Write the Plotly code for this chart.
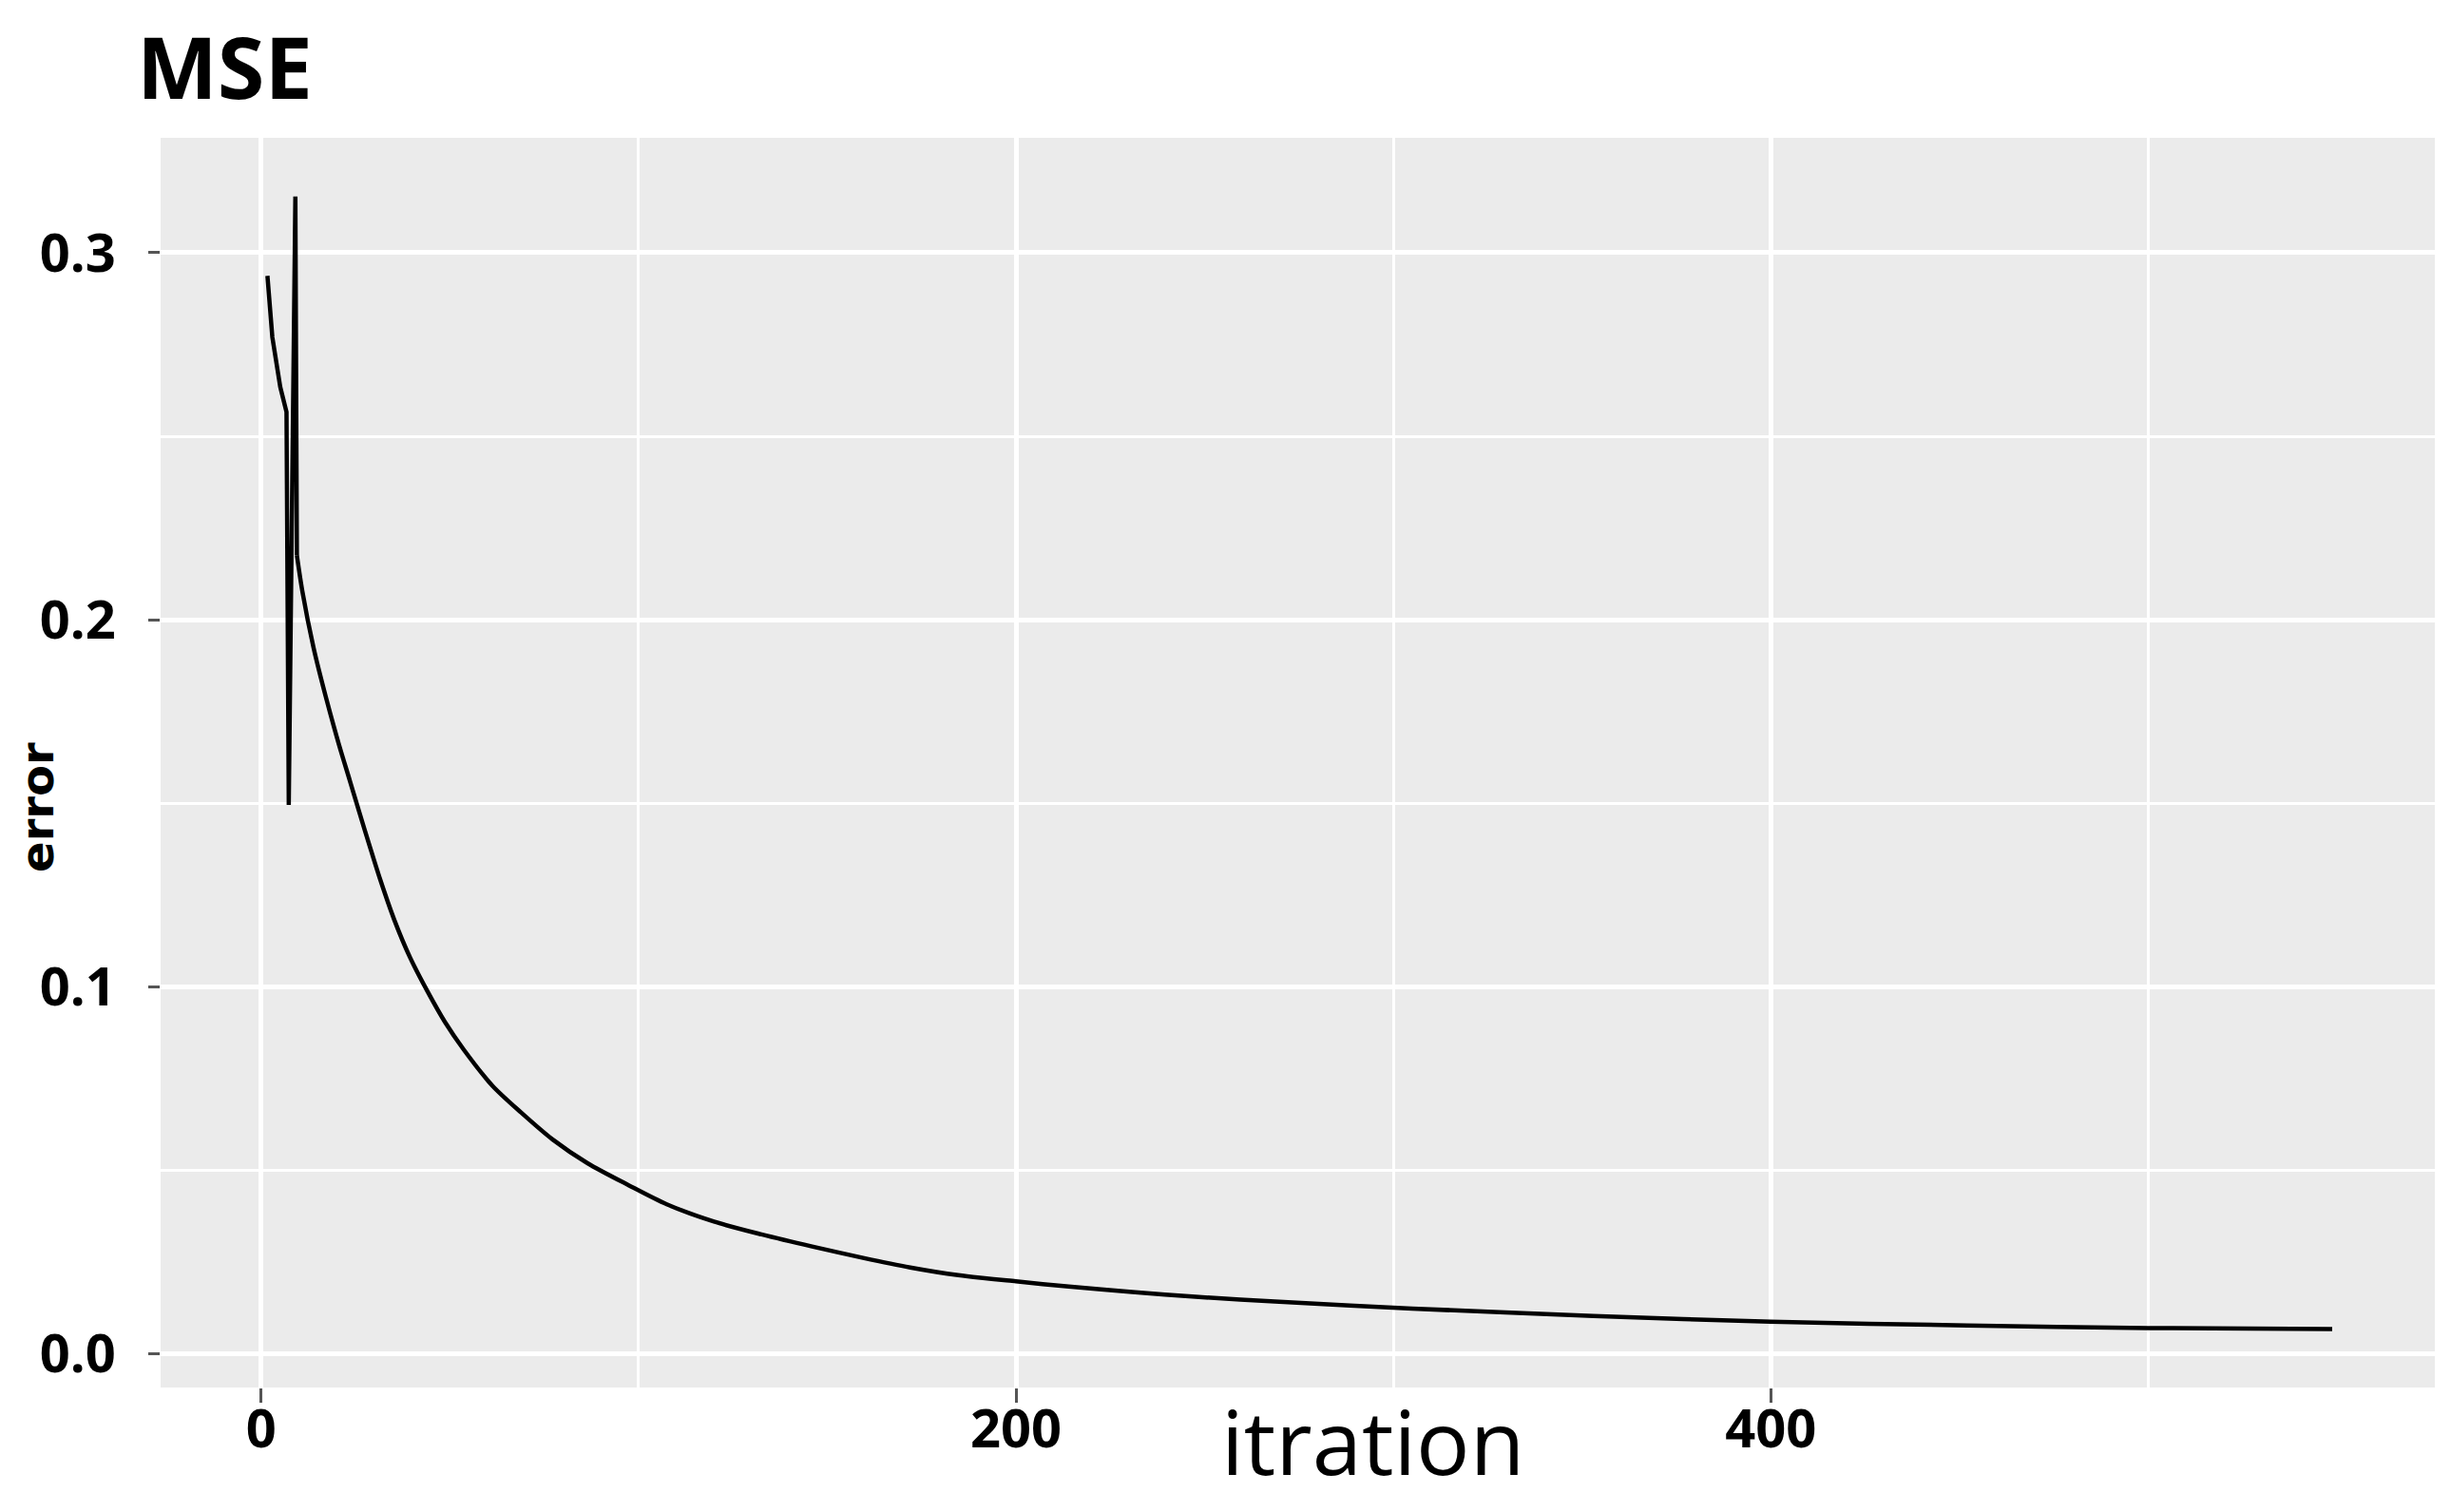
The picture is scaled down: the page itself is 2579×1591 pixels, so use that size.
import plotly.graph_objects as go

# values
iteration = [1.7, 3.0, 5.1, 6.75, 7.35, 9.1, 9.5, 10.95, 13.9, 17.2, 20.6,
             23.5, 26.1, 28.6, 31.5, 35.3, 39.5, 44.1, 48.7, 53.8, 61.3,
             68.9, 77.2, 86.5, 97.4, 107.5, 120, 132.6, 146, 159.5, 172,
             184.7, 200, 214, 230.8, 247.6, 268.6, 305, 353, 400, 452, 500,
             548.7]
error = [0.2937, 0.277, 0.2634, 0.2566, 0.1496, 0.3153, 0.2176, 0.2078,
         0.1925, 0.1789, 0.1662, 0.1563, 0.1474, 0.139, 0.1295, 0.1183,
         0.1080, 0.0988, 0.0905, 0.0828, 0.0731, 0.0658, 0.0585, 0.052,
         0.046, 0.0408, 0.0361, 0.0326, 0.0293, 0.0262, 0.0236, 0.0215,
         0.0198, 0.0184, 0.0169, 0.0156, 0.0143, 0.0124, 0.0104, 0.0088,
         0.0078, 0.0071, 0.0068]

x_ticks = [0, 200, 400]
y_ticks = [0.0, 0.1, 0.2, 0.3]
y_tick_text = ["0.0", "0.1", "0.2", "0.3"]

# the jagged start is drawn straight, the smooth decay as a spline
split = 6

fig = go.Figure()
fig.add_trace(go.Scatter(
    x=iteration[:split + 1],
    y=error[:split + 1],
    mode="lines",
    line=dict(color="black", width=4.5),
    showlegend=False,
))
fig.add_trace(go.Scatter(
    x=iteration[split:],
    y=error[split:],
    mode="lines",
    line=dict(color="black", width=4.5, shape="spline", smoothing=0.8),
    showlegend=False,
))

tick_font = dict(family="Open Sans", size=56, color="black", weight="bold")

fig.update_layout(
    width=2579,
    height=1591,
    margin=dict(l=161, r=25, t=137, b=139),
    paper_bgcolor="white",
    plot_bgcolor="#EBEBEB",
)

fig.update_xaxes(
    range=[-26.6, 575.9],
    tickvals=x_ticks,
    ticks="outside", ticklen=15, tickwidth=3, tickcolor="#555555",
    tickfont=tick_font, ticklabelstandoff=-20,
    showgrid=True, gridcolor="white", gridwidth=5,
    minor=dict(dtick=100, tick0=0, showgrid=True, gridcolor="white", gridwidth=2.5),
    zeroline=False, showline=False,
)
fig.update_yaxes(
    range=[-0.0091, 0.3313],
    tickvals=y_ticks, ticktext=y_tick_text,
    ticks="outside", ticklen=12, tickwidth=3, tickcolor="#555555",
    tickfont=tick_font, ticklabelstandoff=23,
    showgrid=True, gridcolor="white", gridwidth=5,
    minor=dict(dtick=0.05, tick0=0, showgrid=True, gridcolor="white", gridwidth=2.5),
    zeroline=False, showline=False,
)

# chart title
fig.add_annotation(
    text="<b>MSE</b>",
    xref="paper", yref="paper",
    x=-0.0114, y=1.010, xanchor="left", yanchor="bottom",
    showarrow=False,
    font=dict(family="Open Sans", size=90, color="black"),
)
fig.add_annotation(
    text="itration",
    xref="paper", yref="paper",
    x=0.533, y=-0.0426, xanchor="center", yanchor="middle",
    showarrow=False,
    font=dict(family="Open Sans", size=94, color="black"),
)
fig.add_annotation(
    text="error",
    xref="paper", yref="paper",
    x=-0.0543, y=0.464, xanchor="center", yanchor="middle",
    textangle=-90,
    showarrow=False,
    font=dict(family="DejaVu Sans", size=48, color="black", weight="bold"),
)

fig.write_html("out.html")
